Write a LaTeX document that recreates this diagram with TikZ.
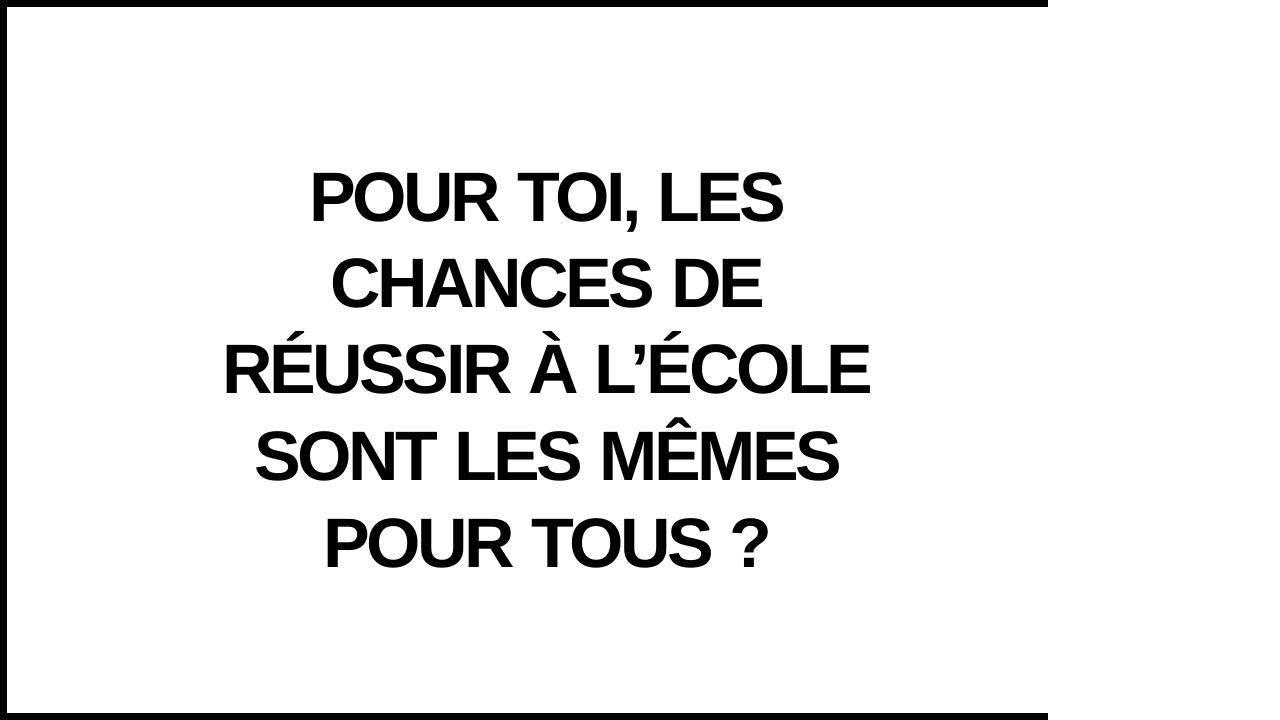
\documentclass[tikz,border=0pt]{standalone}
\usepackage{fontspec}
\setmainfont{Liberation Sans}[LetterSpace=-5]
\begin{document}
\begin{tikzpicture}[x=1pt,y=1pt,
  bar/.style={fill=black,draw=none},
  titleline/.style={anchor=base,inner sep=0pt,font=\bfseries\fontsize{70}{86}\selectfont}]
\useasboundingbox (0,0) rectangle (1280,720);
\fill[white] (0,0) rectangle (1280,720);
\path[bar] (0,713) rectangle (1048,720);
\path[bar] (0,0) rectangle (7,720);
\path[bar] (0,0) rectangle (1048,7);
\node[titleline] (l1) at (548,{720-222}) {POUR TOI, LES};
\node[titleline] (l2) at (548,{720-308}) {CHANCES DE};
\node[titleline] (l3) at (548,{720-394}) {RÉUSSIR À L’ÉCOLE};
\node[titleline] (l4) at (548,{720-481}) {SONT LES MÊMES};
\node[titleline] (l5) at (548,{720-568}) {POUR TOUS ?};
\end{tikzpicture}
\end{document}
